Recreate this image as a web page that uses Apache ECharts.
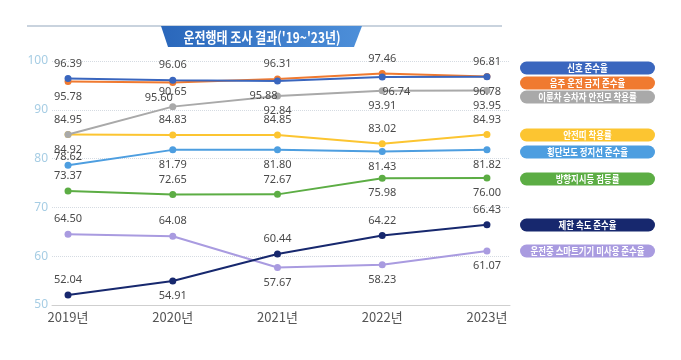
<!DOCTYPE html>
<html><head><meta charset="utf-8">
<script src="https://cdn.jsdelivr.net/npm/echarts@6/dist/echarts.min.js"></script>
<style>html,body{margin:0;padding:0;background:#fff}#c{width:681px;height:360px}</style>
</head><body><div id="c"></div>
<script>
const years = ['2019년','2020년','2021년','2022년','2023년'];
const seriesNames = ['신호 준수율','음주 운전 금지 준수율','이륜차 승차자 안전모 착용률','안전띠 착용률','횡단보도 정지선 준수율','방향지시등 점등률','제한 속도 준수율','운전중 스마트기기 미사용 준수율'];
const signal   = [96.39, 96.06, 95.88, 96.74, 96.78];
const drunk    = [95.78, 95.60, 96.31, 97.46, 96.81];
const helmet   = [84.92, 90.65, 92.84, 93.91, 93.95];
const seatbelt = [84.95, 84.83, 84.85, 83.02, 84.93];
const crosswalk= [78.62, 81.79, 81.80, 81.43, 81.82];
const turnSig  = [73.37, 72.65, 72.67, 75.98, 76.00];
const speed    = [52.04, 54.91, 60.44, 64.22, 66.43];
const phone    = [64.50, 64.08, 57.67, 58.23, 61.07];
const yTicks = [50, 60, 70, 80, 90, 100];

const allData = [signal, drunk, helmet, seatbelt, crosswalk, turnSig, speed, phone];
const colors = ['#3a66be','#f07a30','#a9a9a9','#fcc531','#4d9ee0','#5cad44','#17286e','#a99be0'];
const labelPos = [
  ['top','top','bottom','bottom','bottom'],
  ['bottom','bottom','top','top','top'],
  ['bottom','top','bottom','bottom','bottom'],
  ['top','top','top','top','top'],
  ['top','bottom','bottom','bottom','bottom'],
  ['top','top','top','bottom','bottom'],
  ['top','bottom','top','top','top'],
  ['top','top','bottom','bottom','bottom']
];
const labelOff = {'0_2':[-14,0],'1_1':[-14,0],'0_3':[14,0],'4_0':[0,7]};
const legendY = [68, 83, 97, 135, 152, 179, 225, 251];

const series = allData.map((arr, s) => ({
  name: seriesNames[s],
  type: 'line',
  symbol: 'circle',
  symbolSize: 7,
  z: 10 - s,
  lineStyle: {width: 2, color: colors[s]},
  itemStyle: {color: colors[s]},
  label: {show: true, color: '#4a4a4a', fontSize: 11, fontFamily: 'Noto Sans', distance: 6,
          formatter: p => p.value[1].toFixed(2)},
  data: arr.map((v, i) => ({value: [i, v], label: {position: labelPos[s][i], offset: labelOff[s+'_'+i] || [0,0]}}))
}));

const graphics = [
  {type:'line', shape:{x1:27,y1:26,x2:502,y2:26}, style:{stroke:'#c9d3de', lineWidth:2}},
  {type:'polygon', shape:{points:[[161,26],[362,26],[354,47],[168,47]]},
   style:{fill:{type:'linear',x:0,y:0,x2:1,y2:0,colorStops:[{offset:0,color:'#2a67bb'},{offset:1,color:'#4d8fd9'}]}}},
  {type:'text', x:262, y:37, scaleX:0.8, style:{text:"운전행태 조사 결과('19~'23년)", fill:'#fff', font:'bold 15px "Noto Sans CJK KR"', align:'center', verticalAlign:'middle'}}
];
seriesNames.forEach((n, i) => {
  graphics.push({type:'rect', shape:{x:520, y:legendY[i]-6.5, width:135, height:13, r:6.5}, style:{fill:colors[i]}});
  graphics.push({type:'text', x:587.5, y:legendY[i], scaleX:0.8, style:{text:n, fill:'#fff', font:'bold 10.5px "Noto Sans CJK KR"', align:'center', verticalAlign:'middle'}});
});

const chart = echarts.init(document.getElementById('c'));
chart.setOption({
  animation: false,
  backgroundColor: '#fff',
  grid: {left: 52, right: 171, top: 61, bottom: 55},
  xAxis: {
    type: 'value', min: -0.153, max: 4.22,
    axisLine: {show: true, lineStyle: {color: '#cfcfcf', width: 1}},
    axisTick: {show: false},
    splitLine: {show: false},
    axisLabel: {customValues: years.map((_, i) => i), formatter: v => years[Math.round(v)],
                color: '#555', fontSize: 13, fontFamily: 'Noto Sans CJK KR', margin: 6}
  },
  yAxis: {
    type: 'value', min: yTicks[0], max: yTicks[yTicks.length-1], interval: 10,
    axisLine: {show: false}, axisTick: {show: false},
    splitLine: {lineStyle: {type: 'dotted', color: '#d5dbe2', width: 1}},
    axisLabel: {color: '#a6cde4', fontSize: 12, fontFamily: 'Noto Sans', margin: 4}
  },
  graphic: graphics,
  series: series
});
</script></body></html>
